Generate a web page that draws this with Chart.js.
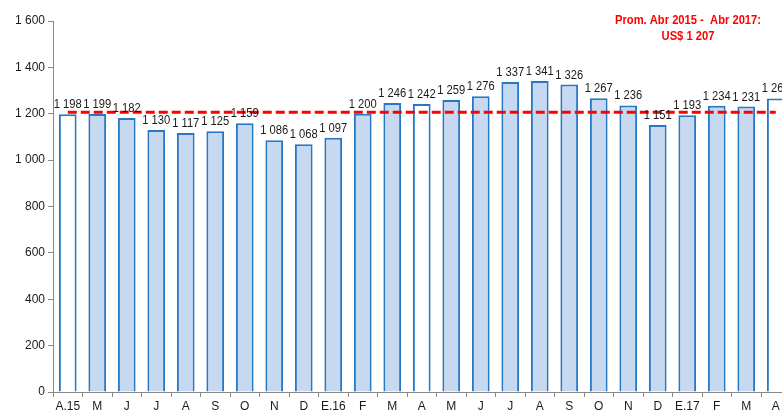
<!DOCTYPE html>
<html>
<head>
<meta charset="utf-8">
<script src="https://cdn.jsdelivr.net/npm/chart.js@4.4.0/dist/chart.umd.min.js"></script>
<style>
  html, body { margin: 0; padding: 0; background: #fff; overflow: hidden; }
  #wrap { width: 800px; height: 415px; }
</style>
</head>
<body>
<div id="wrap"><canvas id="chart" width="800" height="415"></canvas></div>
<script>
// monthly values, Apr 2015 - Apr 2017
const months = ['A.15', 'M', 'J', 'J', 'A', 'S', 'O', 'N', 'D', 'E.16', 'F', 'M',
	'A', 'M', 'J', 'J', 'A', 'S', 'O', 'N', 'D', 'E.17', 'F', 'M', 'A'];
const values = [1198, 1199, 1182, 1130, 1117, 1125, 1159, 1086, 1068, 1097, 1200, 1246,
	1242, 1259, 1276, 1337, 1341, 1326, 1267, 1236, 1151, 1193, 1234, 1231, 1266];
const average = 1207;
const yTicks = [0, 200, 400, 600, 800, 1000, 1200, 1400, 1600];
const noteLines = ['Prom. Abr 2015 -  Abr 2017:', 'US$ 1 207'];
const whiteBars = [0, 12, 24]; // april bars

const fmt = v => String(v).replace(/\B(?=(\d{3})+(?!\d))/g, ' ');
const font = '"Liberation Sans", Arial, sans-serif';

const fills = months.map((m, i) => (whiteBars.includes(i) ? '#ffffff' : '#c6d9f0'));

// condensed text (no narrow font installed)
const narrowText = (ctx, text, x, y, sx) => {
	ctx.save();
	ctx.translate(x, y);
	ctx.scale(sx, 1);
	ctx.fillText(text, 0, 0);
	ctx.restore();
};

const labelPlugin = {
	id: 'barLabels',
	afterDatasetsDraw(chart) {
		const ctx = chart.ctx;
		const meta = chart.getDatasetMeta(1);
		ctx.save();
		ctx.font = '13px ' + font;
		ctx.fillStyle = '#1a1a1a';
		ctx.textAlign = 'center';
		ctx.textBaseline = 'alphabetic';
		meta.data.forEach((bar, i) => {
			narrowText(ctx, fmt(values[i]), bar.x, bar.y - 6, 0.86);
		});
		// note top right
		ctx.font = 'bold 13px ' + font;
		ctx.fillStyle = '#ff0000';
		ctx.textBaseline = 'middle';
		narrowText(ctx, noteLines[0], 688, 20, 0.86);
		narrowText(ctx, noteLines[1], 688, 36, 0.86);
		ctx.restore();
	}
};

new Chart(document.getElementById('chart'), {
	data: {
		labels: months,
		datasets: [
			{
				type: 'line',
				data: months.map(() => average),
				borderColor: '#ff0000',
				borderWidth: 3,
				borderDash: [9, 4],
				pointRadius: 0,
				fill: false,
				order: 0
			},
			{
				type: 'bar',
				data: values,
				backgroundColor: fills,
				borderColor: '#2677c4',
				borderWidth: 2,
				barPercentage: 0.6,
				categoryPercentage: 1,
				order: 1
			}
		]
	},
	options: {
		responsive: false,
		animation: false,
		layout: { padding: { top: 21, right: 9.5, left: 0, bottom: 0 } },
		plugins: { legend: { display: false }, tooltip: { enabled: false } },
		scales: {
			x: {
				offset: true,
				grid: { display: true, drawOnChartArea: false, offset: true, tickLength: 5, color: '#888' },
				border: { color: '#888', width: 1 },
				ticks: { color: '#1a1a1a', font: { family: font, size: 12 }, padding: 2, maxRotation: 0, autoSkip: false },
				afterFit: s => { s.height = 23; }
			},
			y: {
				min: 0,
				max: 1600,
				afterBuildTicks: s => { s.ticks = yTicks.map(v => ({ value: v })); },
				grid: { display: true, drawOnChartArea: false, tickLength: 5, color: '#888' },
				border: { color: '#888', width: 1 },
				ticks: { color: '#1a1a1a', font: { family: font, size: 12 }, padding: 3, callback: v => fmt(v) },
				afterFit: s => { s.width = 53; }
			}
		}
	},
	plugins: [labelPlugin]
});
</script>
</body>
</html>
